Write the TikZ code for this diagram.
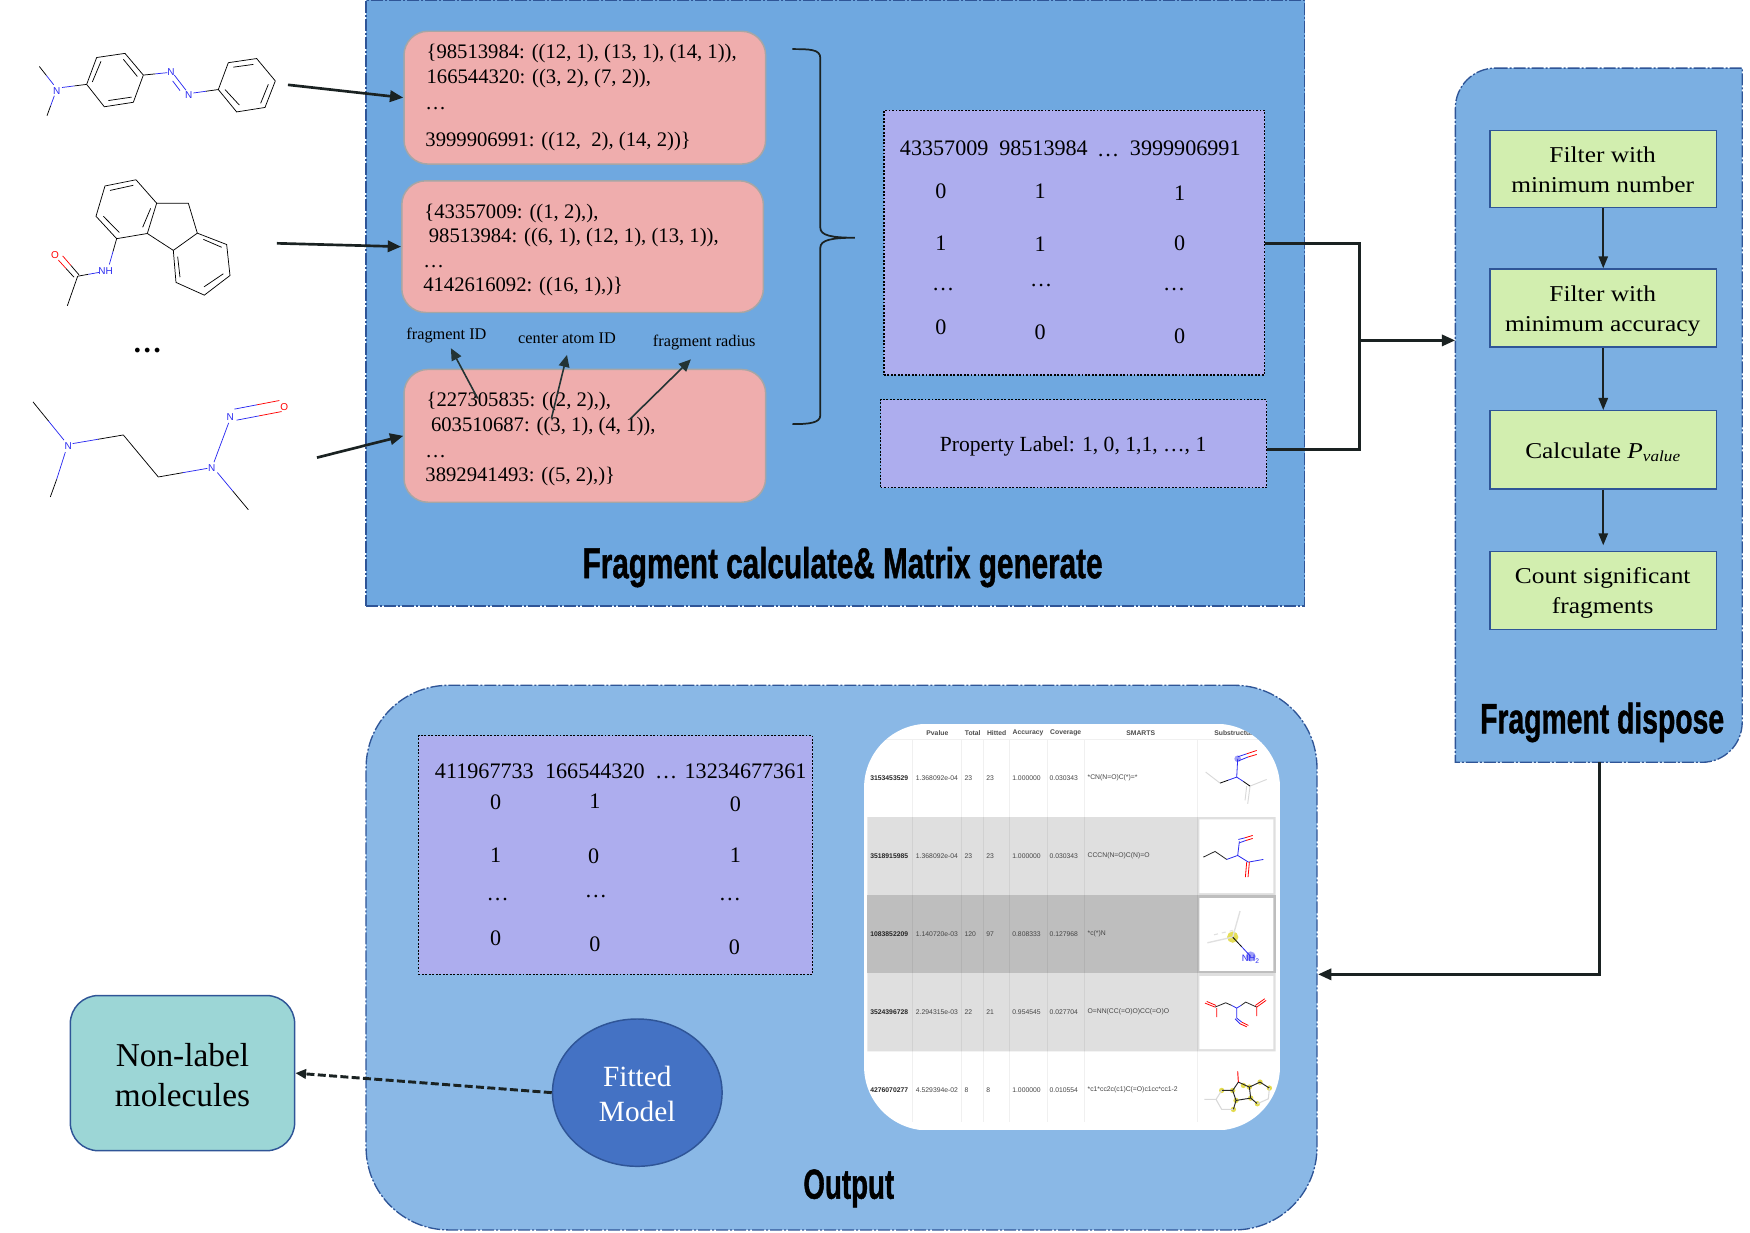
\documentclass[tikz,border=0pt]{standalone}
\usepackage{fontspec}
\setmainfont{Liberation Serif}
\newfontfamily\arialf{Liberation Sans}
\newfontfamily\titlef{Liberation Sans}[BoldFeatures={FakeBold=1.2}]
\usetikzlibrary{arrows.meta,shapes.geometric,fit,calc}
\definecolor{edgeblue}{HTML}{2F5597}
\definecolor{panelA}{HTML}{6FA8E0}
\definecolor{panelB}{HTML}{7BAFE2}
\definecolor{panelC}{HTML}{8AB8E6}
\definecolor{pinkbox}{HTML}{EFADAD}
\definecolor{lilac}{HTML}{ADADEE}
\definecolor{greenbox}{HTML}{D2EEAF}
\definecolor{tealbox}{HTML}{9CD6D6}
\definecolor{ellblue}{HTML}{4472C4}
\definecolor{darkline}{HTML}{1A2222}
\definecolor{fragline}{HTML}{233434}
\definecolor{molblue}{HTML}{2A2AF0}
\definecolor{tabtext}{HTML}{444444}
\newcommand{\fsz}[1]{\fontsize{#1}{#1}\selectfont}
\newcommand{\hb}[4]{\draw[#3] (#1) -- ($(#1)!.5!(#2)$); \draw[#4] ($(#1)!.5!(#2)$) -- (#2);}
\newcommand{\grntxt}[2]{\scalebox{1.12}[1]{\fontsize{17}{22.6}\selectfont\begin{tabular}{@{}c@{}}#1\\#2\end{tabular}}}
\tikzset{
 panel/.style={draw=edgeblue,line width=1pt,dash pattern=on 9pt off 1.5pt on 1.5pt off 1.5pt},
 pinkb/.style={fit={#1},inner sep=0pt,draw=black!35,line width=1.1pt,fill=pinkbox,rounded corners=18pt},
 lilacb/.style={fit={#1},inner sep=0pt,draw=black,line width=1pt,fill=lilac,dash pattern=on 1.4pt off 1.2pt},
 greenb/.style={fit={#1},inner sep=0pt,draw=edgeblue,line width=1.1pt,fill=greenbox},
 hidden/.style={fit={#1},inner sep=0pt},
 pinktxt/.style={anchor=west,inner sep=0pt,font=\fsz{15.5}},
 mattxt/.style={inner sep=0pt,font=\fsz{16.6}},
 small/.style={inner sep=0pt,font=\fsz{12.2}},
 conn/.style={draw=darkline,line width=2pt,-{Triangle[length=10pt,width=8.5pt]}},
 plainc/.style={draw=darkline,line width=2pt},
 thinc/.style={draw=darkline,line width=1.4pt,-{Triangle[length=9pt,width=7pt]}},
 fragc/.style={draw=fragline,line width=1.2pt,-{Triangle[length=9pt,width=8pt]}},
 atom/.style={inner sep=0pt,font=\arialf\fsz{7.5}},
 tab/.style={inner sep=0pt,anchor=west,font=\arialf\fsz{5.1},text=tabtext},
 tabb/.style={inner sep=0pt,anchor=west,font=\arialf\bfseries\fsz{5.1},text=black!85},
 tabh/.style={inner sep=0pt,font=\arialf\bfseries\fsz{5.1},text=black!70},
 mol/.style={line width=.55pt},
}
\begin{document}
\begin{tikzpicture}[x=0.8371pt,y=-0.8371pt]
\useasboundingbox (0,0) rectangle (1568,1104.7);
% ---- panels
\node[hidden={(328,0)(1169,543)},panel,fill=panelA] (pA) {};
\draw[panel,fill=panelB] (1340,61) -- (1561,61) -- (1561,647)
  .. controls (1561,667) and (1545,683) .. (1525,683) -- (1304,683) -- (1304,97)
  .. controls (1304,77) and (1320,61) .. (1340,61) -- cycle;
\node[hidden={(1304,61)(1561,683)}] (pB) {};
\node[hidden={(328,614)(1180,1102)},panel,fill=panelC,rounded corners=62pt] (pC) {};
% ---- molecules (zoom coordinates)
\begin{scope}[x=0.25pt,y=-0.2583pt,mol]
\node[atom,text=molblue] (n1) at (170,263) {N};
\node[atom,text=molblue] (n2) at (513,210) {N};
\node[atom,text=molblue] (n3) at (566,277) {N};
\hb{118,193}{161,246}{black}{molblue}
\hb{141,336}{163,278}{black}{molblue}
\hb{260,245}{186,254}{black}{molblue}
\draw (260,245)--(290,167)--(375,155)--(430,218)--(400,297)--(313,310)--cycle;
\draw (277,238)--(303,178) (370,172)--(412,222) (395,282)--(325,292);
\hb{430,218}{502,211}{black}{molblue}
\draw[molblue] (523,218)--(558,262) (518,235)--(540,263);
\hb{655,260}{580,270}{black}{molblue}
\draw (655,260)--(685,182)--(770,170)--(826,235)--(795,312)--(710,325)--cycle;
\draw (700,195)--(760,187) (805,245)--(782,300) (718,305)--(675,260);
% second
\draw (315,540)--(408,522)--(470,590)--(442,678)--(350,693)--(288,628)--cycle;
\draw (330,553)--(400,538) (452,605)--(428,660) (310,628)--(358,675);
\draw (470,590)--(565,590)--(592,677)--(520,727)--(442,678);
\draw (592,677)--(680,710)--(690,800)--(613,857)--(528,820)--(520,727);
\draw (610,695)--(665,718) (670,795)--(612,833) (540,805)--(533,745);
\node[atom,text=molblue] (nh) at (317,788) {NH};
\node[atom,text=red] (o1) at (165,740) {O};
\hb{350,693}{328,768}{black}{molblue}
\hb{233,802}{297,791}{black}{molblue}
\draw (233,802)--(202,888);
\hb{237,798}{188,743}{black}{red}
\hb{222,805}{175,755}{black}{red}
% third
\node[atom,text=molblue] (n4) at (205,1295) {N};
\node[atom,text=molblue] (n5) at (635,1360) {N};
\node[atom,text=molblue] (n6) at (691,1212) {N};
\node[atom,text=red] (o2) at (853,1182) {O};
\hb{99,1167}{192,1278}{black}{molblue}
\draw[molblue] (170,1392)--(196,1313);
\draw (151,1443)--(170,1392);
\hb{370,1263}{218,1288}{black}{molblue}
\draw (370,1263)--(475,1385);
\hb{475,1385}{622,1360}{black}{molblue}
\hb{745,1480}{652,1372}{black}{molblue}
\draw[molblue] (642,1342)--(686,1228);
\hb{703,1188}{838,1163}{molblue}{red}
\hb{710,1220}{845,1195}{molblue}{red}
\end{scope}
\node[inner sep=0pt,font=\bfseries\fsz{22}] (dots) at (132,314) {\ldots};
% ---- pink boxes
\node[pinkb={(362,28)(686,147)}] (k1) {};
\node[pinkb={(360,162)(684,280)}] (k2) {};
\node[pinkb={(362,331)(686,450)}] (k3) {};
\node[pinktxt] (k1a) at (382,48) {\{98513984: ((12, 1), (13, 1), (14, 1)),};
\node[pinktxt] (k1b) at (382,70) {166544320: ((3, 2), (7, 2)),};
\node[pinktxt] (k1c) at (381,97) {\ldots};
\node[pinktxt] (k1d) at (381,127) {3999906991: ((12,\ \ 2), (14, 2))\}};
\node[pinktxt] (k2a) at (380,191) {\{43357009: ((1, 2),),};
\node[pinktxt] (k2b) at (384,213) {98513984: ((6, 1), (12, 1), (13, 1)),};
\node[pinktxt] (k2c) at (379,239) {\ldots};
\node[pinktxt] (k2d) at (379,257) {4142616092: ((16, 1),)\}};
\node[pinktxt] (k3a) at (382,360) {\{227305835: ((2, 2),),};
\node[pinktxt] (k3b) at (386,382) {603510687: ((3, 1), (4, 1)),};
\node[pinktxt] (k3c) at (381,409) {\ldots};
\node[pinktxt] (k3d) at (381,427) {3892941493: ((5, 2),)\}};
% ---- fragment labels
\node[small] (lf) at (400,301) {fragment ID};
\node[small] (lc) at (508,303) {center atom ID};
\node[small] (lr) at (631,307) {fragment radius};
\coordinate (af) at (428,357); \coordinate (afe) at (404,312);
\coordinate (ac) at (494,375); \coordinate (ace) at (508,318);
\coordinate (ar) at (565,375); \coordinate (are) at (619,322);
\draw[fragc] (af) -- (afe);
\draw[fragc] (ac) -- (ace);
\draw[fragc] (ar) -- (are);
% ---- molecule arrows
\coordinate (s1) at (258,76); \coordinate (s2) at (248,218); \coordinate (s3) at (284,410);
\draw[conn] (s1) -- (k1.west);
\draw[conn] (s2) -- (k2.west);
\draw[conn] (s3) -- (k3.west);
% ---- brace
\draw[darkline,line width=1.3pt] (710,44) .. controls (725,44) and (735,44) .. (735,52) -- (735,204)
  .. controls (735,211) and (745,213) .. (766,213) .. controls (745,213) and (735,215) .. (735,222)
  -- (735,372) .. controls (735,379) and (725,380) .. (710,380);
% ---- matrix 1
\node[lilacb={(792,99)(1133,336)}] (m1) {};
\node[lilacb={(789,358)(1135,437)}] (pl) {};
\node[inner sep=0pt,font=\fsz{16.2}] (plt) at (961.5,400) {Property Label: 1, 0, 1,1, \ldots, 1};
\node[mattxt] (h1) at (846,133) {43357009};
\node[mattxt] (h2) at (935,133) {98513984};
\node[mattxt] (h3) at (993,139) {\ldots};
\node[mattxt] (h4) at (1062,133) {3999906991};
\node[mattxt] at (843,171) {0}; \node[mattxt] at (932,171) {1}; \node[mattxt] at (1057,173) {1};
\node[mattxt] at (843,218) {1}; \node[mattxt] at (932,219) {1}; \node[mattxt] at (1057,218) {0};
\node[mattxt] at (845,259) {\ldots}; \node[mattxt] at (933,256) {\ldots}; \node[mattxt] at (1052,259) {\ldots};
\node[mattxt] at (843,293) {0}; \node[mattxt] at (932,298) {0}; \node[mattxt] at (1057,301) {0};
% ---- connectors to fragment dispose
\coordinate (j1) at (1218,218); \coordinate (j2) at (1218,403); \coordinate (j3) at (1218,305);
\draw[plainc] (m1.east |- j1) -- (j1) -- (j2) -- (pl.east |- j2);
\draw[conn] (j3) -- (pB.west |- j3);
% ---- title A
\node[inner sep=0pt,anchor=base] (tA) at (755,518) {\resizebox{390pt}{23.5pt}{\titlef\bfseries Fragment calculate\& Matrix generate}};
% ---- green boxes
\node[greenb={(1335,117)(1538,186)}] (g1) {};
\node[greenb={(1335,241)(1538,311)}] (g2) {};
\node[greenb={(1335,368)(1538,438)}] (g3) {};
\node[greenb={(1335,494)(1538,564)}] (g4) {};
\coordinate (g1c) at (1436,153.5); \coordinate (g2c) at (1436,278); \coordinate (g3c) at (1436,405); \coordinate (g4c) at (1436,531);
\node[inner sep=0pt] (g1t) at (g1c) {\grntxt{Filter with}{minimum number}};
\node[inner sep=0pt] (g2t) at (g2c) {\grntxt{Filter with}{minimum accuracy}};
\node[inner sep=0pt] (g3t) at (g3c) {\scalebox{1.12}[1]{\fsz{17}Calculate \textit{P}\raisebox{-.3ex}{\fsz{11.5}\textit{value}}}};
\node[inner sep=0pt] (g4t) at (g4c) {\grntxt{Count significant}{fragments}};
\draw[thinc] (g1.south) -- (g2.north);
\draw[thinc] (g2.south) -- (g3.north);
\draw[thinc,shorten >=4pt] (g3.south) -- (g4.north);
\node[inner sep=0pt,anchor=base] (tB) at (1435.5,657) {\resizebox{183pt}{23pt}{\titlef\bfseries Fragment dispose}};
% ---- matrix 2
\node[lilacb={(375,659)(728,873)}] (m2) {};
\node[mattxt] at (434,691) {411967733};
\node[mattxt] at (533,691) {166544320};
\node[mattxt] at (597,697) {\ldots};
\node[mattxt] at (668,691) {13234677361};
\node[mattxt] at (444,719) {0}; \node[mattxt] at (533,718) {1}; \node[mattxt] at (659,721) {0};
\node[mattxt] at (444,766) {1}; \node[mattxt] at (532,767) {0}; \node[mattxt] at (659,766) {1};
\node[mattxt] at (446,806) {\ldots}; \node[mattxt] at (534,803) {\ldots}; \node[mattxt] at (654,806) {\ldots};
\node[mattxt] at (444,841) {0}; \node[mattxt] at (533,846) {0}; \node[mattxt] at (658,849) {0};
% ---- table picture
\begin{scope}[shift={(770.6,647)},x=0.25pt,y=-0.25pt]
\clip[rounded corners=48pt] (12,5) rectangle (1260,1225);
\fill[white] (12,5) rectangle (1260,1225);
\fill[black!12.5] (22,285) rectangle (1247,520) (22,753) rectangle (1247,988);
\fill[black!25.5] (22,520) rectangle (1247,753);
\draw[black,opacity=.06,line width=.4pt] (22,50) -- (1247,50)
 (157,50)--(157,1200) (305,50)--(305,1200) (370,50)--(370,1200) (448,50)--(448,1200)
 (561,50)--(561,1200) (673,50)--(673,1200) (1012,50)--(1012,1200);
\fill[white] (1018,292) rectangle (1240,513) (1018,528) rectangle (1240,746) (1018,762) rectangle (1240,981);
\node[tabh] at (232,32) {Pvalue};
\node[tabh] at (338,32) {Total};
\node[tabh] at (410,32) {Hitted};
\node[tabh] at (504,32) {Accuracy};
\node[tabh] at (617,32) {Coverage};
\node[tabh] at (842,32) {SMARTS};
\node[tabh,anchor=west] at (1062,32) {Substructure};
\foreach \yy/\idv/\pv/\tv/\hv/\av/\cv/\sv in {
 168/3153453529/1.368092e-04/23/23/1.000000/0.030343/{*CN(N=O)C(*)=*},
 402/3518915985/1.368092e-04/23/23/1.000000/0.030343/{CCCN(N=O)C(N)=O},
 636/1083852209/1.140720e-03/120/97/0.808333/0.127968/{*c(*)N},
 870/3524396728/2.294315e-03/22/21/0.954545/0.027704/{O=NN(CC(=O)O)CC(=O)O},
 1104/4276070277/4.529394e-02/8/8/1.000000/0.010554/{*c1*cc2c(c1)C(=O)c1cc*cc1-2}}{
 \node[tabb] at (30,\yy) {\idv};
 \node[tab] at (167,\yy) {\pv};
 \node[tab] at (313,\yy) {\tv};
 \node[tab] at (378,\yy) {\hv};
 \node[tab] at (456,\yy) {\av};
 \node[tab] at (568,\yy) {\cv};
 \node[tab] at (682,\yy) {\sv};
}
% row 1 structure
\fill[molblue,opacity=.45] (1133,110) circle (10);
\draw[black!15,line width=.7pt] (1037,150)--(1080,183) (1170,192)--(1220,172) (1170,192)--(1163,245) (1160,192)--(1155,235);
\draw[line width=.6pt,black] (1080,183)--(1105,174);
\draw[line width=.6pt,molblue] (1105,174)--(1130,165)--(1133,110);
\draw[line width=.6pt,molblue] (1130,165)--(1150,178);
\draw[line width=.6pt,black] (1150,178)--(1170,192);
\draw[line width=.6pt,molblue] (1133,104)--(1160,95) (1136,116)--(1163,105);
\draw[line width=.6pt,red] (1160,95)--(1190,85) (1163,105)--(1190,97);
% row 2 structure
\draw[line width=.6pt,black!85] (1030,405)--(1065,388)--(1100,412);
\draw[line width=.6pt,molblue] (1100,412)--(1133,400)--(1138,358) (1133,400)--(1165,420) (1165,420)--(1210,412);
\draw[line width=.6pt,molblue] (1135,352)--(1155,347) (1138,362)--(1158,355);
\draw[line width=.6pt,red] (1155,347)--(1178,340) (1158,355)--(1178,349) (1160,420)--(1156,465) (1168,420)--(1164,465);
% row 3 structure
\fill[yellow!85!black,opacity=.75] (1118,645) circle (17);
\fill[molblue,opacity=.45] (1172,703) circle (15);
\draw[black!12,line width=1pt] (1118,645)--(1042,662) (1118,645)--(1140,567);
\draw[black!12,line width=.8pt,dashed] (1062,638)--(1118,625);
\draw[line width=.6pt,black] (1118,645)--(1145,674);
\draw[line width=.6pt,molblue] (1145,674)--(1172,703);
\node[inner sep=0pt,font=\arialf\fsz{7},text=molblue] at (1172,712) {NH\textsubscript{2}};
% row 4 structure
\draw[line width=.6pt,black!85] (1065,855)--(1097,842)--(1115,850) (1143,850)--(1157,840)--(1190,855);
\draw[line width=.6pt,molblue] (1115,850)--(1130,858)--(1143,850) (1130,858)--(1130,888);
\draw[line width=.6pt,molblue] (1130,888)--(1145,900) (1125,890)--(1140,905);
\draw[line width=.6pt,red] (1145,900)--(1165,910) (1140,905)--(1160,914) (1065,855)--(1035,843) (1068,850)--(1040,838) (1190,855)--(1218,835) (1186,850)--(1214,830) (1070,858)--(1070,885) (1190,855)--(1190,882);
% row 5 structure
\foreach \px/\py in {1085/1105,1118/1105,1128/1135,1120/1162,1168/1095,1200/1080,1228/1098,1172/1128,1192/1145,1150/1090}{\fill[yellow!85!black,opacity=.8] (\px,\py) circle (8);}
\draw[line width=.7pt,black!85] (1085,1105)--(1118,1105)--(1128,1135)--(1120,1162) (1118,1105)--(1135,1080)--(1168,1095)--(1172,1128)--(1128,1135) (1168,1095)--(1200,1080)--(1228,1098) (1172,1128)--(1192,1145);
\draw[line width=.7pt,red] (1135,1080)--(1133,1048);
\draw[black!15,line width=.8pt] (1033,1132)--(1068,1132)--(1085,1105) (1068,1132)--(1085,1162)--(1120,1162) (1192,1145)--(1225,1130)--(1228,1098);
\end{scope}
% ---- fitted model and non-label
\node[ellipse,draw=edgeblue,line width=1.1pt,fill=ellblue,inner sep=0pt,minimum width=127.2pt,minimum height=110.5pt] (fm) at (571,979) {};
\coordinate (fmc) at (571,980);
\node[inner sep=0pt,text=white,align=center,font=\fontsize{22}{26}\selectfont] (fmt) at (fmc) {Fitted\\Model};
\node[hidden={(63,892)(264,1031)},draw=edgeblue,line width=1.1pt,fill=tealbox,rounded corners=21pt] (nl) {};
\coordinate (nlc) at (163.5,963.5);
\node[inner sep=0pt,align=center,font=\fontsize{25}{30}\selectfont] (nlt) at (nlc) {Non-label\\molecules};
\draw[darkline,line width=2.2pt,dash pattern=on 6pt off 2.5pt,-{Triangle[length=8pt,width=7pt]}] (fm.west) -- (nl.east);
\node[inner sep=0pt,anchor=base] (tC) at (760.5,1074) {\resizebox{68pt}{22pt}{\titlef\bfseries Output}};
% ---- fragment dispose to output
\coordinate (bo) at (1433,683); \coordinate (ci) at (1181,873);
\draw[conn] (bo) |- (ci);
\end{tikzpicture}
\end{document}
